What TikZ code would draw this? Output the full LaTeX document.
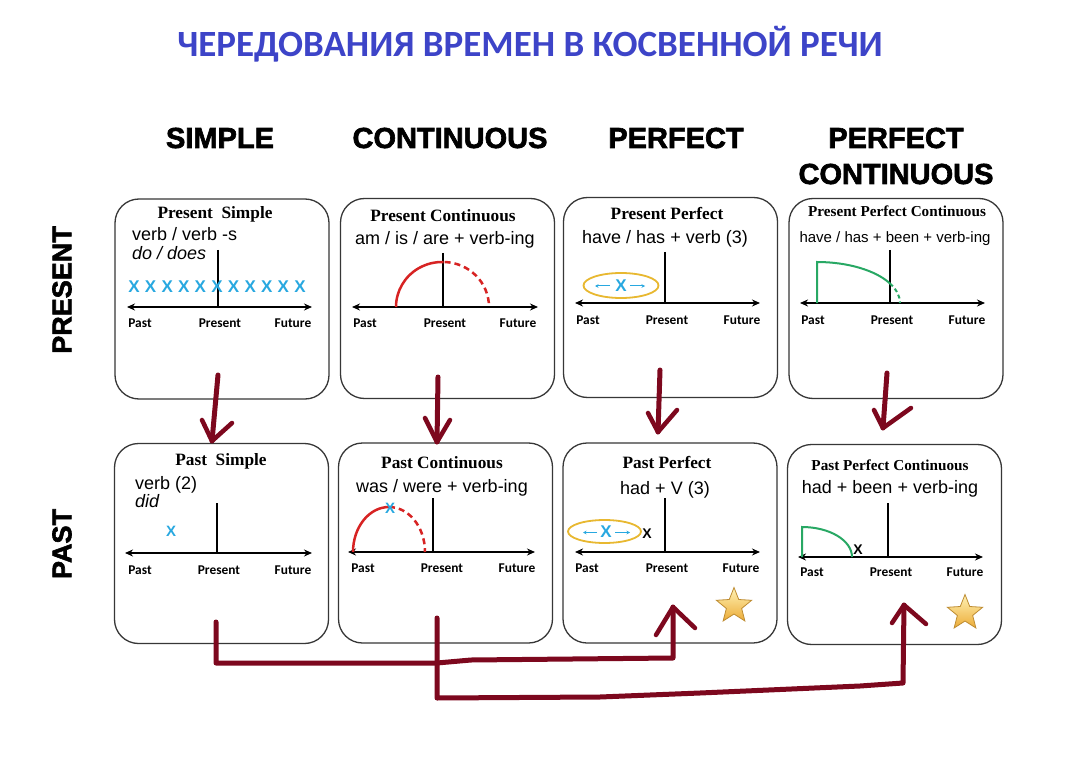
\documentclass[tikz,border=0pt]{standalone}
\usepackage{fontspec}
\setmainfont{Liberation Serif}
\setsansfont{Liberation Sans}
\newfontfamily\lblfont{Carlito}
\newfontfamily\heavyfont{Liberation Sans}[BoldFeatures={FakeBold=2.2}]
\usetikzlibrary{arrows.meta,shapes.geometric}
\definecolor{ttlblue}{RGB}{61,68,200}
\definecolor{arrred}{RGB}{125,8,30}
\definecolor{xblue}{RGB}{40,168,224}
\definecolor{arcred}{RGB}{215,35,35}
\definecolor{grn}{RGB}{40,168,100}
\definecolor{goldline}{RGB}{232,184,48}
\definecolor{boxgray}{RGB}{55,55,55}
\definecolor{startop}{RGB}{255,242,180}
\definecolor{starbot}{RGB}{236,172,56}
\definecolor{staredge}{RGB}{190,140,50}
\tikzset{
  tbox/.style={draw=boxgray, rounded corners=24pt, line width=1.3pt, minimum width=214pt, minimum height=200pt, inner sep=0pt},
  hdr/.style={font=\heavyfont\bfseries\fontsize{29}{36}\selectfont, anchor=base, inner sep=0pt},
  rowlbl/.style={font=\heavyfont\bfseries\fontsize{27}{32}\selectfont, rotate=90, inner sep=0pt},
  ttl/.style={font=\bfseries\fontsize{17.3}{20}\selectfont, anchor=base, inner sep=0pt},
  ttls/.style={font=\bfseries\fontsize{15.2}{18}\selectfont, anchor=base, inner sep=0pt},
  frm/.style={font=\sffamily\fontsize{18}{21}\selectfont, anchor=base, inner sep=0pt},
  frms/.style={font=\sffamily\fontsize{15}{18}\selectfont, anchor=base, inner sep=0pt},
  frml/.style={font=\sffamily\fontsize{18}{21}\selectfont, anchor=base west, inner sep=0pt},
  tl/.style={font=\lblfont\bfseries\fontsize{13.4}{15}\selectfont, anchor=base, inner sep=0pt},
  tline/.style={line width=2pt, arrows={Stealth[length=8pt,width=7pt]-Stealth[length=8pt,width=7pt]}},
  nowl/.style={line width=1.5pt},
  bx/.style={text=xblue, font=\sffamily\bfseries\fontsize{17}{18}\selectfont, inner sep=0pt},
  kx/.style={font=\sffamily\bfseries\fontsize{14}{16}\selectfont, inner sep=0pt},
  redsolid/.style={draw=arcred, line width=2.5pt},
  reddash/.style={draw=arcred, line width=2.5pt, dash pattern=on 6pt off 4pt},
  grnline/.style={draw=grn, line width=2pt},
  oval/.style={ellipse, draw=goldline, line width=1.8pt, inner sep=0pt},
  sarr/.style={draw=xblue, line width=1pt, -{Stealth[length=3.5pt,width=3.5pt]}},
  goldstar/.style={star, star points=5, star point ratio=2.3, minimum size=37pt, inner sep=0pt, draw=staredge, line width=0.8pt, top color=startop, bottom color=starbot},
  harr/.style={draw=arrred, line width=5pt, line join=round, line cap=round},
  harrw/.style={draw=arrred, line width=4.5pt, line join=round, line cap=round}
}
\begin{document}
\begin{tikzpicture}[x=1pt,y=-1pt]
\useasboundingbox (0,0) rectangle (1065,767);
\fill[white] (0,0) rectangle (1065,767);

% title and headers
\node[font=\lblfont\bfseries\fontsize{37}{44}\selectfont, text=ttlblue, anchor=base, inner sep=0pt] (title) at (530,57) {ЧЕРЕДОВАНИЯ ВРЕМЕН В КОСВЕННОЙ РЕЧИ};
\node[hdr] (h1) at (220,148) {SIMPLE};
\node[hdr] (h2) at (450,148) {CONTINUOUS};
\node[hdr] (h3) at (676,148) {PERFECT};
\node[hdr] (h4a) at (896,148) {PERFECT};
\node[hdr] (h4b) at (896,184) {CONTINUOUS};
\node[rowlbl] (rp) at (62,290) {PRESENT};
\node[rowlbl] (rq) at (62,544) {PAST};

% boxes
\node[tbox] (b1) at (222,299) {};
\node[tbox] (b2) at (447.5,298.5) {};
\node[tbox] (b3) at (670.5,297.5) {};
\node[tbox] (b4) at (896,298.5) {};
\node[tbox] (c1) at (221.5,543.5) {};
\node[tbox] (c2) at (445.5,543) {};
\node[tbox] (c3) at (670,543) {};
\node[tbox] (c4) at (894.5,544.5) {};

% ---- Present Simple
\node[ttl] (t1) at (215,219) {Present\ \ Simple};
\node[frml] (f1a) at (132,241) {verb / verb -s};
\node[frml] (f1b) at (132,260) {\itshape do / does};
\draw[tline] (127,307) -- (312,307);
\draw[nowl] (218,250) -- (218,307);
\foreach \i in {0,...,10} \node[bx] at (134+16.6*\i,287) {X};
\node[tl] at (140,327) {Past};
\node[tl] at (220,327) {Present};
\node[tl] at (293,327) {Future};

% ---- Present Continuous
\node[ttl] (t2) at (443,222) {Present Continuous};
\node[frm] (f2) at (445,245) {am / is / are + verb-ing};
\draw[tline] (352,307) -- (538,307);
\draw[nowl] (443,253) -- (443,307);
\draw[redsolid] (396,307) arc[start angle=180, end angle=272, x radius=46, y radius=45];
\draw[reddash] (444.6,262) arc[start angle=272, end angle=360, x radius=46, y radius=45];
\node[tl] at (365,327) {Past};
\node[tl] at (445,327) {Present};
\node[tl] at (518,327) {Future};

% ---- Present Perfect
\node[ttl] (t3) at (667,220) {Present Perfect};
\node[frm] (f3) at (665,244) {have / has + verb (3)};
\draw[tline] (575,303) -- (760,303);
\draw[nowl] (665,252) -- (665,303);
\node[oval, minimum width=75pt, minimum height=25pt] (e1) at (621,285.5) {};
\node[bx] (x3) at (e1.center) {X};
\draw[sarr] (610,286) -- (595,286);
\draw[sarr] (630,286) -- (645,286);
\node[tl] at (588,324) {Past};
\node[tl] at (667,324) {Present};
\node[tl] at (742,324) {Future};

% ---- Present Perfect Continuous
\node[ttls] (t4) at (897,217) {Present Perfect Continuous};
\node[frms] (f4) at (895,243) {have / has + been + verb-ing};
\draw[tline] (800,303) -- (985,303);
\draw[nowl] (890,250) -- (890,303);
\draw[grnline] (817,303) -- (817,262) arc[start angle=270, end angle=331.6, x radius=83, y radius=41];
\draw[grnline, dash pattern=on 4pt off 3pt] (890,283.5) arc[start angle=331.6, end angle=360, x radius=83, y radius=41];
\node[tl] at (813,324) {Past};
\node[tl] at (892,324) {Present};
\node[tl] at (967,324) {Future};

% ---- Past Simple
\node[ttl] (u1) at (221,465) {Past\ \ Simple};
\node[frml] (g1a) at (135,489) {verb (2)};
\node[frml] (g1b) at (135,507) {\itshape did};
\draw[tline] (125,553) -- (312,553);
\draw[nowl] (217,503) -- (217,553);
\node[bx, font=\sffamily\bfseries\fontsize{15}{17}\selectfont] at (171,531) {X};
\node[tl] at (140,574) {Past};
\node[tl] at (219,574) {Present};
\node[tl] at (293,574) {Future};

% ---- Past Continuous
\node[ttl] (u2) at (442,468) {Past Continuous};
\node[frm] (g2) at (442,492) {was / were + verb-ing};
\draw[tline] (348,552) -- (535,552);
\draw[nowl] (433,498) -- (433,552);
\draw[redsolid] (353,552) arc[start angle=180, end angle=270, x radius=36, y radius=45];
\draw[reddash] (389,507) arc[start angle=270, end angle=360, x radius=36, y radius=45];
\node[bx, font=\sffamily\bfseries\fontsize{15}{17}\selectfont] at (390,508) {X};
\node[tl] at (363,572) {Past};
\node[tl] at (442,572) {Present};
\node[tl] at (517,572) {Future};

% ---- Past Perfect
\node[ttl] (u3) at (667,468) {Past Perfect};
\node[frm] (g3) at (665,494) {had + V (3)};
\draw[tline] (575,552) -- (760,552);
\draw[nowl] (665,498) -- (665,552);
\node[oval, minimum width=73pt, minimum height=23pt] (e2) at (604.5,531.5) {};
\node[bx] (x7) at (606,532) {X};
\draw[sarr] (597,532.5) -- (583,532.5);
\draw[sarr] (615,532.5) -- (630,532.5);
\node[kx] at (647,534) {X};
\node[tl] at (587,572) {Past};
\node[tl] at (667,572) {Present};
\node[tl] at (741,572) {Future};
\node[goldstar] (s1) at (734,606) {};

% ---- Past Perfect Continuous
\node[ttls] (u4) at (890,470) {Past Perfect Continuous};
\node[frm] (g4) at (890,493) {had + been + verb-ing};
\draw[tline] (798,557) -- (983,557);
\draw[nowl] (888,503) -- (888,557);
\draw[grnline] (802,557) -- (802,527) arc[start angle=270, end angle=360, x radius=50, y radius=30];
\node[kx] at (858,550) {X};
\node[tl] at (812,576) {Past};
\node[tl] at (891,576) {Present};
\node[tl] at (965,576) {Future};
\node[goldstar] (s2) at (965,613) {};

% ---- connectors (present -> past)
\coordinate (a1s) at (218,375); \coordinate (a1t) at (212,441);
\coordinate (a2s) at (438,377); \coordinate (a2t) at (437,442);
\coordinate (a3s) at (660,370); \coordinate (a3t) at (658,432);
\coordinate (a4s) at (887,373); \coordinate (a4t) at (883,428);
\draw[harr] (a1s) -- (a1t);
\draw[harrw] (202,420) -- (a1t) -- (232,423);
\draw[harr] (a2s) -- (a2t);
\draw[harrw] (425,418) -- (a2t) -- (450,420);
\draw[harr] (a3s) -- (a3t);
\draw[harrw] (648,413) -- (a3t) -- (677,410);
\draw[harr] (a4s) -- (a4t);
\draw[harrw] (874,410) -- (a4t) -- (911,408);

% ---- connectors (simple/continuous past -> perfect past)
\coordinate (k1s) at (216,622); \coordinate (k1t) at (673,607);
\coordinate (k2s) at (437,618); \coordinate (k2t) at (904,605);
\draw[harr] (k1s) -- (216,663) -- (437,663) -- (471,660) -- (673,658) -- (k1t);
\draw[harrw] (656,635) -- (k1t) -- (695,628);
\draw[harr] (k2s) -- (437,698) -- (600,697) -- (700,693) -- (860,686) -- (903,683) -- (k2t);
\draw[harrw] (892,623) -- (k2t) -- (926,624);
\end{tikzpicture}
\end{document}
